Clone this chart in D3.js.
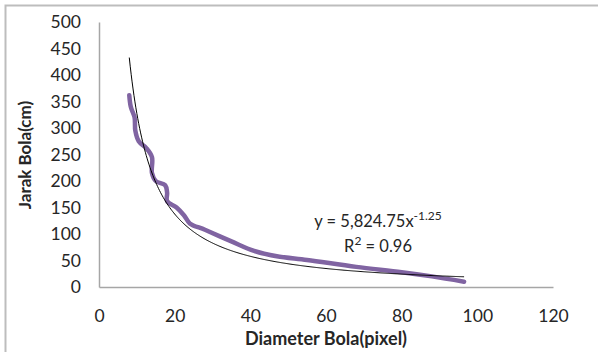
<!DOCTYPE html>
<html>
<head>
<meta charset="utf-8">
<script src="https://cdn.jsdelivr.net/npm/d3@7"></script>
<style>
  body { margin: 0; background: #fff; }
  text { font-family: Lato, "Open Sans", sans-serif; fill: #262626; }
</style>
</head>
<body>
<script>
// measured data: diameter (pixel) vs distance (cm)
var diameter = [8, 8.4, 9.4, 9.6, 10.5, 12.5, 14, 14, 15, 17.5, 18, 18, 20.5, 22.5, 24, 28, 35, 41, 47, 55, 68, 80, 88, 96.5]
var jarak = [362, 340, 320, 295, 275, 262, 245, 215, 200, 192, 178, 162, 150, 135, 120, 108, 86, 68, 58, 51, 38, 28, 20, 10]

var xTicks = [0, 20, 40, 60, 80, 100, 120]
var yTicks = [0, 50, 100, 150, 200, 250, 300, 350, 400, 450, 500]

// power trendline y = a * x^b
var fitA = 5824.75
var fitB = -1.25

var w = 598
var h = 352

var margin = {
  top: 22,
  right: 45,
  bottom: 65,
  left: 99
}

var width = w - margin.left - margin.right
var height = h - margin.top - margin.bottom

var svg = d3.select('body')
            .append('svg')
            .attr('width', w)
            .attr('height', h)

// outer chart border (cropped at right/bottom)
svg.append('rect')
    .attr('x', 5.5)
    .attr('y', 5.5)
    .attr('width', 620)
    .attr('height', 380)
    .attr('fill', 'none')
    .attr('stroke', '#bdbdbd')
    .attr('stroke-width', 2)

var chart = svg.append('g')
              .attr('transform', 'translate(' + margin.left + ',' + margin.top + ')')

var x = d3.scaleLinear()
        .domain([0, 120])
        .range([0, width])

var y = d3.scaleLinear()
        .domain([0, 500])
        .range([height, 0])

var xAxis = d3.axisBottom(x).tickValues(xTicks).tickSize(0).tickPadding(23)
var yAxis = d3.axisLeft(y).tickValues(yTicks).tickSize(0).tickPadding(18)

var gx = chart.append('g')
    .attr('transform', 'translate(0,' + height + ')')
    .call(xAxis)
var gy = chart.append('g')
    .call(yAxis)

gx.select('.domain').attr('stroke', '#a6a6a6').attr('stroke-width', 1.5)
gy.select('.domain').attr('stroke', '#a6a6a6').attr('stroke-width', 1.5)
chart.selectAll('.tick text')
    .style('font-family', 'Lato, sans-serif')
    .style('font-size', '17.5px')
    .attr('fill', '#262626')

// data line (smoothed)
var points = diameter.map(function (d, i) {
  return [d, jarak[i]]
})

var line = d3.line()
            .x(function (d) { return x(d[0]) })
            .y(function (d) { return y(d[1]) })
            .curve(d3.curveCatmullRom.alpha(0.5))

chart.append('path')
    .datum(points)
    .attr('d', line)
    .attr('fill', 'none')
    .attr('stroke', '#8064a2')
    .attr('stroke-width', 4.5)
    .attr('stroke-linecap', 'round')
    .attr('stroke-linejoin', 'round')

// trendline over data range
var fitPts = d3.range(d3.min(diameter), d3.max(diameter) + 0.01, 0.25).map(function (v) {
  return [v, fitA * Math.pow(v, fitB)]
})

chart.append('path')
    .datum(fitPts)
    .attr('d', d3.line().x(function (d) { return x(d[0]) }).y(function (d) { return y(d[1]) }))
    .attr('fill', 'none')
    .attr('stroke', '#000')
    .attr('stroke-width', 1)

// equation label
var eq = svg.append('text')
    .attr('x', 378)
    .attr('y', 227)
    .attr('text-anchor', 'middle')
    .style('font-size', '16.5px')
eq.append('tspan').text('y = 5,824.75x')
eq.append('tspan').attr('dy', -7).style('font-size', '12px').text('-1.25')

var r2 = svg.append('text')
    .attr('x', 378)
    .attr('y', 252)
    .attr('text-anchor', 'middle')
    .style('font-size', '16.5px')
r2.append('tspan').text('R')
r2.append('tspan').attr('dy', -7).style('font-size', '12px').text('2')
r2.append('tspan').attr('dy', 7).text(' = 0.96')

// axis titles
svg.append('text')
    .attr('x', 326)
    .attr('y', 345)
    .attr('text-anchor', 'middle')
    .style('font-size', '18px')
    .style('font-weight', 'bold')
    .text('Diameter Bola(pixel)')

svg.append('text')
    .attr('transform', 'translate(31,155) rotate(-90)')
    .attr('text-anchor', 'middle')
    .style('font-size', '17px')
    .style('font-weight', 'bold')
    .text('Jarak Bola(cm)')
</script>
</body>
</html>
